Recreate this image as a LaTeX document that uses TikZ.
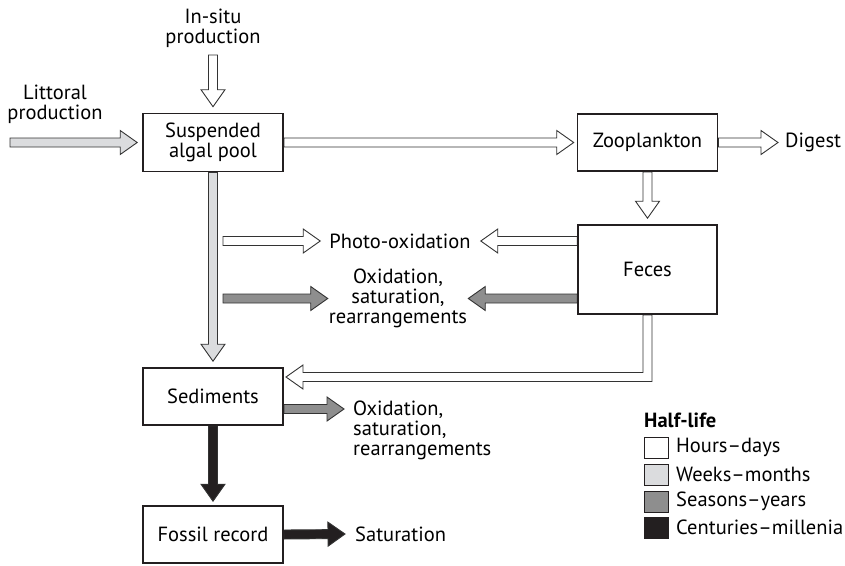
\documentclass[tikz,border=0pt]{standalone}
\usepackage{fontspec}
\setmainfont{PT Sans}
\usetikzlibrary{calc}
\definecolor{lgray}{HTML}{DBDCDE}
\definecolor{mgray}{HTML}{8E8E8E}
\definecolor{dblack}{HTML}{231F20}
\definecolor{edge}{HTML}{333333}
\tikzset{
  boxnode/.style={draw=dblack, line width=1.6pt, fill=white, minimum width=140pt, minimum height=57pt, align=center, inner sep=0pt},
  lbl/.style={align=center, inner sep=0pt},
  arrowline/.style={draw=edge, line width=0.9pt, line join=miter},
  legbox/.style={draw=dblack, line width=0.9pt, minimum width=24pt, minimum height=21pt, inner sep=0pt}
}
\newcommand\barrow[3][white]{%
  \draw[arrowline, fill=#1] let \p1=(#2), \p2=(#3),
    \n1={atan2(\y2-\y1,\x2-\x1)}, \n2={veclen(\x2-\x1,\y2-\y1)} in
    [shift={(\p1)}, rotate=\n1]
    (0pt,-4.5pt) -- ({(\n2-17)*1pt},-4.5pt) -- ({(\n2-17)*1pt},-12pt) -- ({\n2*1pt},0pt)
    -- ({(\n2-17)*1pt},12pt) -- ({(\n2-17)*1pt},4.5pt) -- (0pt,4.5pt) -- cycle;}
\begin{document}
\begin{tikzpicture}[x=1pt,y=-1pt, font=\fontsize{20.5}{20}\selectfont]
\useasboundingbox (0,0) rectangle (845,565);
% text labels
\node[lbl] (littoral) at (55,104) {Littoral\\production};
\node[lbl] (insitu) at (213,28) {In-situ\\production};
\node[lbl, anchor=west] (digest) at (785,142.5) {Digest};
\node[lbl] (photo) at (400,241) {Photo-oxidation};
\node[lbl] (ox1) at (398,298) {Oxidation,\\saturation,\\rearrangements};
\node[lbl, anchor=north west, align=left] (ox2) at (353,401) {Oxidation,\\saturation,\\rearrangements};
\node[lbl, anchor=west] (sat) at (355,534) {Saturation};

% box positions
\coordinate (poolC) at (213,142.5);
\coordinate (zooC) at (647.5,142.5);
\coordinate (fecesC) at (647.5,269.5);
\coordinate (sedC) at (213,396.5);
\coordinate (fossilC) at (213,534.5);

\node[boxnode, minimum height=58pt] (pool) at (poolC) {Suspended\\algal pool};
\node[boxnode] (zoo) at (zooC) {Zooplankton};
\node[boxnode, minimum width=139pt, minimum height=89pt] (feces) at (fecesC) {Feces};
\node[boxnode] (sed) at (sedC) {Sediments};
\node[boxnode] (fossil) at (fossilC) {Fossil record};

% free ends
\coordinate (litS) at (10,142.5);
\coordinate (insS) at (213,55);
\coordinate (ph1S) at (223,241);
\coordinate (ox1S) at (223,298.5);
\coordinate (ox2Y) at (0,409);
\coordinate (elb) at (647,377);
\coordinate (elbT) at (286,377);

% arrows
\barrow[lgray]{litS}{$(pool.west)+(-5,0)$}
\barrow{insS}{$(pool.north)+(0,-6)$}
\barrow{pool.east}{$(zoo.west)+(-3,0)$}
\barrow{zoo.east}{$(digest.west)+(-7,0)$}
\barrow{zoo.south}{$(feces.north)+(0,-6)$}
\barrow[lgray]{pool.south}{$(sed.north)+(0,-6)$}
\barrow{ph1S}{$(photo.west)+(-9,0)$}
\barrow{feces.west |- photo}{$(photo.east)+(10,0)$}
\barrow[mgray]{ox1S}{$(ox1S -| ox1.west)+(-1,0)$}
\barrow[mgray]{feces.west |- ox1S}{$(ox1S -| ox1.east)+(1,0)$}
\barrow[mgray]{sed.east |- ox2Y}{$(ox2.west |- ox2Y)+(-9,0)$}
\barrow[dblack]{sed.south}{$(fossil.north)+(0,-4)$}
\barrow[dblack]{fossil.east}{$(sat.west)+(-10,0)$}
\draw[arrowline, fill=white] let \p1=(feces.south), \p2=(elb), \p3=(elbT) in
  ({\x1-4.5pt},\y1) -- ({\x1-4.5pt},{\y2+4.5pt}) -- ({\x3+17pt},{\y2+4.5pt})
  -- ({\x3+17pt},{\y2+12pt}) -- (\x3,\y2) -- ({\x3+17pt},{\y2-12pt})
  -- ({\x3+17pt},{\y2-4.5pt}) -- ({\x1+4.5pt},{\y2-4.5pt}) -- ({\x1+4.5pt},\y1) -- cycle;

% boxes redrawn on top of arrow ends
\node[boxnode, minimum height=58pt] at (poolC) {Suspended\\algal pool};
\node[boxnode] at (zooC) {Zooplankton};
\node[boxnode, minimum width=139pt, minimum height=89pt] at (fecesC) {Feces};
\node[boxnode] at (sedC) {Sediments};
\node[boxnode] at (fossilC) {Fossil record};

% legend
\node[lbl, anchor=west, font=\fontsize{20.5}{20}\selectfont\bfseries] (halflife) at (644,420) {Half-life};
\node[legbox, fill=white] (lg1) at (656,447.5) {};
\node[legbox, fill=lgray] (lg2) at (656,474.5) {};
\node[legbox, fill=mgray] (lg3) at (656,501.5) {};
\node[legbox, fill=dblack] (lg4) at (656,527.5) {};
\node[lbl, anchor=west] (lt1) at (676,447.5) {Hours–days};
\node[lbl, anchor=west] (lt2) at (676,474.5) {Weeks–months};
\node[lbl, anchor=west] (lt3) at (676,501.5) {Seasons–years};
\node[lbl, anchor=west] (lt4) at (676,527.5) {Centuries–millenia};
\end{tikzpicture}
\end{document}
